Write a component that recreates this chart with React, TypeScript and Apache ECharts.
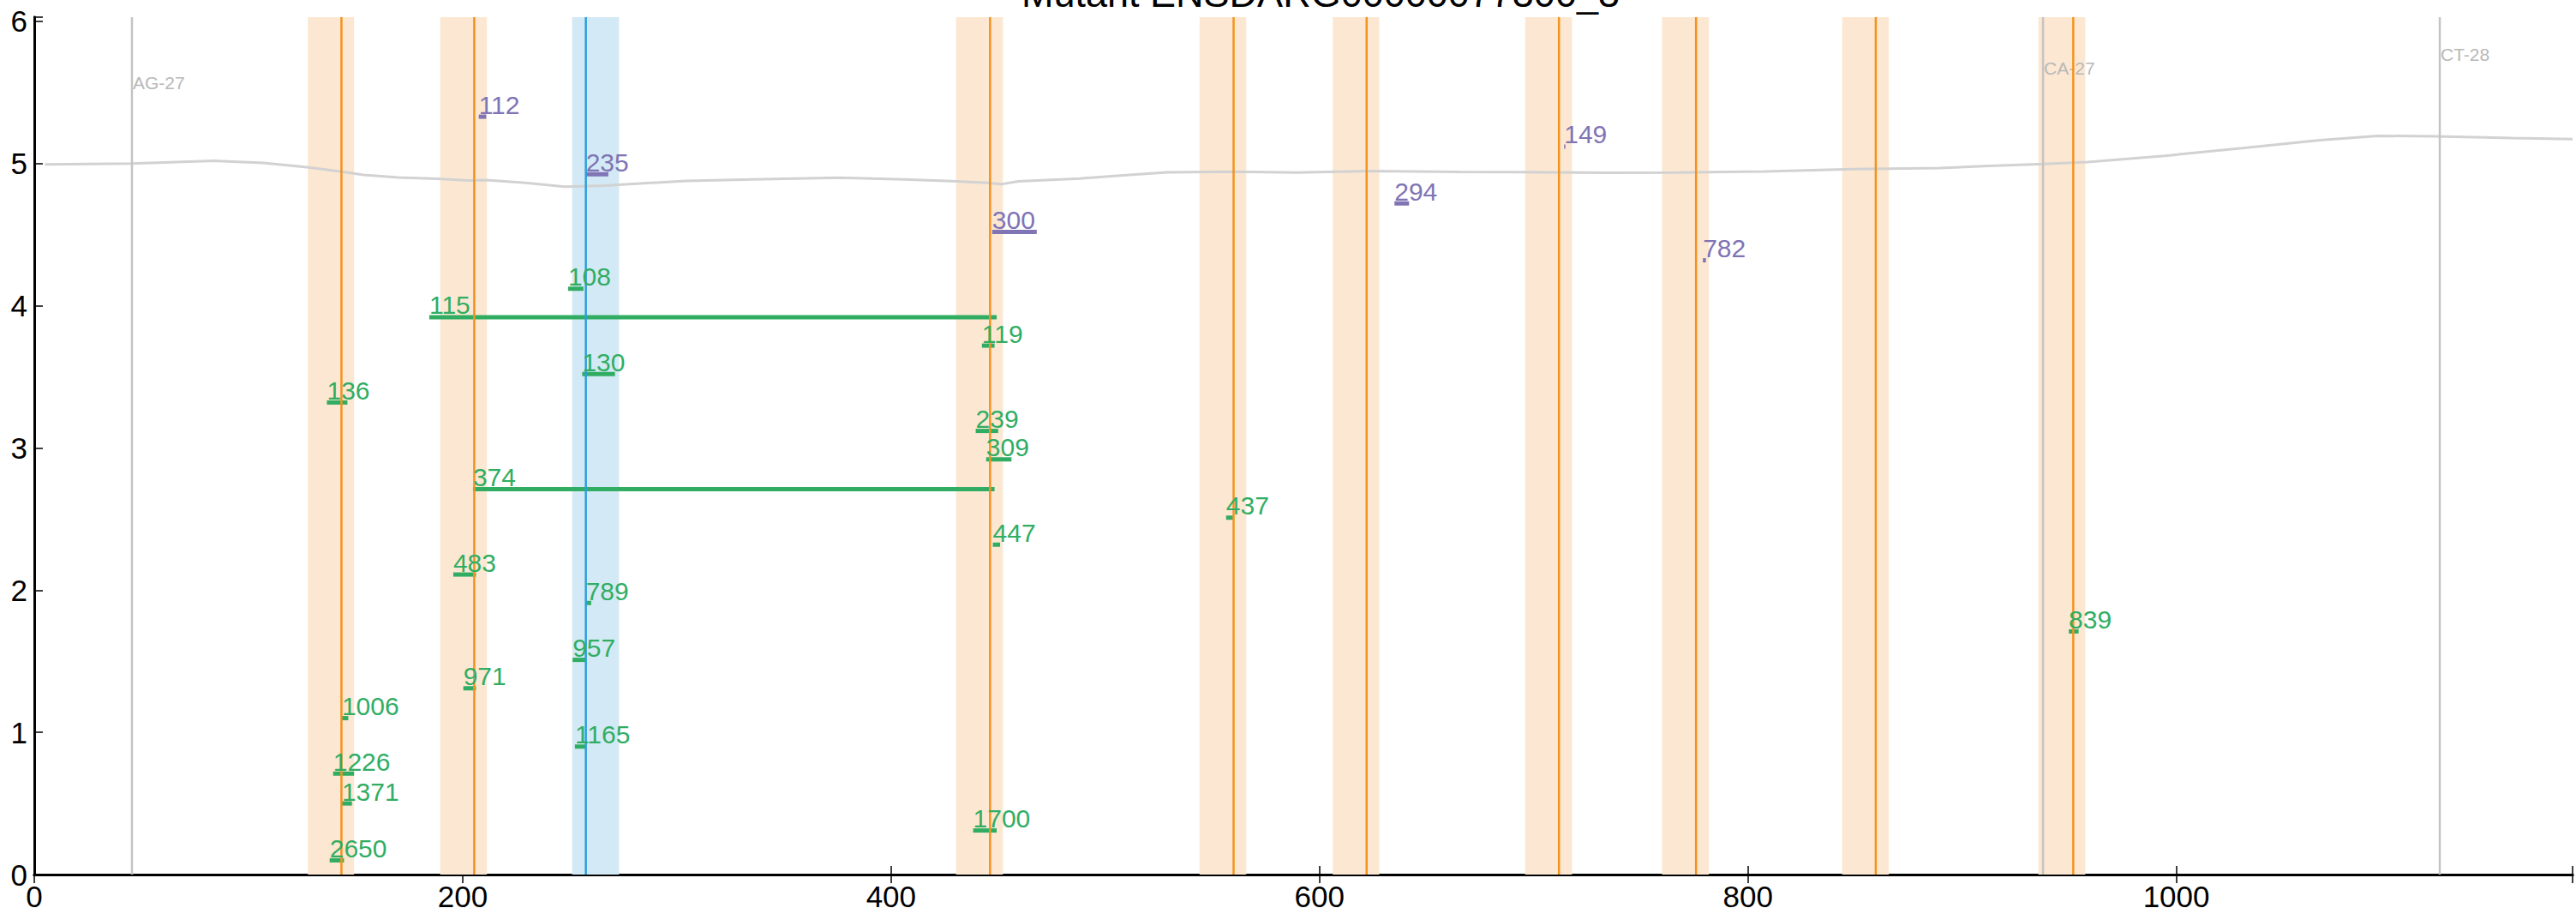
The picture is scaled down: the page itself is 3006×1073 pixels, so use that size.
import React, { useEffect, useRef } from 'react';
import * as echarts from 'echarts';

const TITLE = 'Mutant ENSDARG00000077300_3';
const X_MAX = 1185;
const Y_MAX = 6.03;
const X_INTERVAL = 200;
const Y_INTERVAL = 1;

// orange highlighted positions
const orangeLineX = [143.4, 205.4, 446.2, 559.9, 622.0, 711.8, 775.8, 859.7, 951.9];
const orangeBandStart = [127.7, 189.5, 430.3, 544.0, 606.2, 696.0, 759.9, 844.0, 935.6];
const orangeBandEnd = [149.3, 211.3, 452.2, 565.8, 627.9, 717.9, 781.8, 865.8, 957.5];

// blue highlighted position
const blueLineX = [257.5];
const blueBandStart = [251.1];
const blueBandEnd = [273.0];

// grey markers
const markerX = [45.6, 937.8, 1123];
const markerLabels = ['AG-27', 'CA-27', 'CT-28'];
const markerLabelY = [5.57, 5.67, 5.77];

// grey profile curve
const curveX = [5, 45.6, 84.4, 106.8, 127.3, 143.6, 153.8, 170, 188.4, 202.8, 210.9, 229.3, 247.7, 266, 304.4, 335, 375.8, 406.4, 430.8, 445.1, 451.3, 459.5, 488, 508.4, 528.8, 559.5, 590, 624.4, 665.2, 706, 734.6, 767.2, 808, 848.8, 889.6, 910, 938, 958.6, 994.7, 1030.8, 1067, 1094, 1121, 1157, 1185];
const curveY = [4.995, 5.0, 5.02, 5.005, 4.975, 4.943, 4.921, 4.903, 4.893, 4.881, 4.885, 4.865, 4.838, 4.845, 4.879, 4.889, 4.901, 4.889, 4.875, 4.865, 4.855, 4.875, 4.895, 4.917, 4.939, 4.943, 4.937, 4.947, 4.941, 4.939, 4.935, 4.937, 4.945, 4.961, 4.969, 4.982, 4.998, 5.011, 5.055, 5.109, 5.165, 5.195, 5.192, 5.18, 5.172];

// purple segments
const purpleLabels = ['112', '235', '300', '294', '149', '782'];
const purpleStart = [207.5, 257.5, 447.2, 635.0, 714.2, 779.0];
const purpleEnd = [211.0, 268.0, 468.0, 641.8, 714.8, 780.4];
const purpleY = [5.33, 4.925, 4.52, 4.72, 5.12, 4.32];

// green segments
const greenLabels = ['108', '115', '119', '130', '136', '239', '309', '374', '437', '447', '483', '789', '839', '957', '971', '1006', '1165', '1226', '1371', '1700', '2650'];
const greenStart = [249.2, 184.4, 442.4, 255.8, 136.6, 439.5, 444.4, 204.8, 556.4, 447.5, 195.6, 257.5, 949.8, 251.3, 200.3, 143.6, 252.4, 139.5, 143.6, 438.3, 137.9];
const greenEnd = [256.4, 449.3, 448.3, 271.1, 146.2, 450.0, 456.2, 448.3, 559.9, 450.9, 206.2, 260.0, 954.4, 257.5, 206.2, 146.6, 257.2, 149.3, 148.3, 449.3, 144.6];
const greenY = [4.12, 3.92, 3.72, 3.52, 3.32, 3.12, 2.92, 2.71, 2.51, 2.32, 2.11, 1.91, 1.71, 1.51, 1.31, 1.10, 0.90, 0.71, 0.50, 0.31, 0.10];

const FONT = "'Liberation Sans', Arial, Helvetica, sans-serif";
const ORANGE = '#f5921e';
const ORANGE_BAND = '#fce8d2';
const BLUE = '#2b9fdc';
const BLUE_BAND = '#d3eaf6';
const GREEN = '#31ad63';
const PURPLE = '#8074b4';
const GREY_LINE = '#c4c4c4';
const GREY_TEXT = '#b8b8b8';
const CURVE = '#d2d2d2';

function bandSeries(starts: number[], ends: number[], color: string, z: number) {
  return {
    type: 'custom',
    z,
    silent: true,
    data: starts.map((s, i) => [s, ends[i]]),
    renderItem: (params: any, api: any) => {
      const p1 = api.coord([api.value(0), Y_MAX]);
      const p2 = api.coord([api.value(1), 0]);
      return {
        type: 'rect',
        shape: { x: p1[0], y: p1[1], width: p2[0] - p1[0], height: p2[1] - p1[1] },
        style: { fill: color },
      };
    },
  };
}

function vlineSeries(xs: number[], color: string, width: number, z: number, labels?: string[], labelY?: number[]) {
  return {
    type: 'custom',
    z,
    silent: true,
    data: xs.map((x) => [x, 0]),
    renderItem: (params: any, api: any) => {
      const x = api.value(0);
      const p1 = api.coord([x, Y_MAX]);
      const p2 = api.coord([x, 0]);
      const children: any[] = [
        {
          type: 'line',
          shape: { x1: p1[0], y1: p1[1], x2: p2[0], y2: p2[1] },
          style: { stroke: color, lineWidth: width },
        },
      ];
      if (labels && labelY) {
        const pt = api.coord([x, labelY[params.dataIndex]]);
        children.push({
          type: 'text',
          x: pt[0] + 1,
          y: pt[1],
          style: {
            text: labels[params.dataIndex],
            fill: GREY_TEXT,
            fontSize: 21,
            fontFamily: FONT,
            align: 'left',
            verticalAlign: 'middle',
          },
        });
      }
      return { type: 'group', children };
    },
  };
}

function segLineSeries(starts: number[], ends: number[], ys: number[], color: string, z: number) {
  return {
    type: 'custom',
    z,
    silent: true,
    data: starts.map((s, i) => [s, ys[i], ends[i]]),
    renderItem: (params: any, api: any) => {
      const p1 = api.coord([api.value(0), api.value(1)]);
      const p2 = api.coord([api.value(2), api.value(1)]);
      return {
        type: 'line',
        shape: { x1: p1[0], y1: p1[1], x2: p2[0], y2: p2[1] },
        style: { stroke: color, lineWidth: 5, lineCap: 'butt' },
      };
    },
  };
}

function segTextSeries(starts: number[], ys: number[], labels: string[], color: string, z: number) {
  return {
    type: 'custom',
    z,
    silent: true,
    data: starts.map((s, i) => [s, ys[i]]),
    renderItem: (params: any, api: any) => {
      const p = api.coord([api.value(0), api.value(1)]);
      return {
        type: 'text',
        x: p[0],
        y: p[1] + 1,
        style: {
          text: labels[params.dataIndex],
          fill: color,
          fontSize: 30,
          fontFamily: FONT,
          align: 'left',
          verticalAlign: 'bottom',
        },
      };
    },
  };
}

export default function App() {
  const ref = useRef<HTMLDivElement>(null);

  useEffect(() => {
    if (!ref.current) return;
    const chart = echarts.init(ref.current, undefined, { renderer: 'svg' });
    const axisLine = { show: true, lineStyle: { color: '#000', width: 3 } };
    const axisTick = { show: true, inside: true, length: 10, lineStyle: { color: '#000', width: 1.5 } };
    const xFmt = (v: number) => (v % X_INTERVAL === 0 ? String(v) : '');
    const yFmt = (v: number) => (Number.isInteger(v) ? String(v) : '');

    chart.setOption({
      animation: false,
      backgroundColor: '#fff',
      grid: { left: 40, right: 4, top: 20, bottom: 53, containLabel: false },
      graphic: [
        {
          type: 'text',
          x: 1541,
          y: 15,
          z: 10,
          style: {
            text: TITLE,
            fill: '#000',
            fontSize: 45,
            fontFamily: FONT,
            align: 'center',
            verticalAlign: 'bottom',
          },
        },
      ],
      xAxis: [
        {
          type: 'value',
          min: 0,
          max: X_MAX,
          interval: X_INTERVAL,
          position: 'bottom',
          axisLine,
          axisTick,
          splitLine: { show: false },
          axisLabel: { color: '#000', fontSize: 35, fontFamily: FONT, margin: 8, formatter: xFmt },
        },
        {
          type: 'value',
          min: 0,
          max: X_MAX,
          interval: X_INTERVAL,
          position: 'top',
          axisLine,
          axisTick,
          splitLine: { show: false },
          axisLabel: { show: false },
        },
      ],
      yAxis: [
        {
          type: 'value',
          min: 0,
          max: Y_MAX,
          interval: Y_INTERVAL,
          position: 'left',
          axisLine,
          axisTick,
          splitLine: { show: false },
          axisLabel: { color: '#000', fontSize: 35, fontFamily: FONT, margin: 8, formatter: yFmt },
        },
        {
          type: 'value',
          min: 0,
          max: Y_MAX,
          interval: Y_INTERVAL,
          position: 'right',
          axisLine,
          axisTick: { show: false },
          splitLine: { show: false },
          axisLabel: { show: false },
        },
      ],
      series: [
        bandSeries(orangeBandStart, orangeBandEnd, ORANGE_BAND, 1),
        bandSeries(blueBandStart, blueBandEnd, BLUE_BAND, 1),
        {
          type: 'line',
          z: 2,
          silent: true,
          showSymbol: false,
          symbol: 'none',
          data: curveX.map((x, i) => [x, curveY[i]]),
          lineStyle: { color: CURVE, width: 3 },
        },
        vlineSeries(markerX, GREY_LINE, 2.5, 3, markerLabels, markerLabelY),
        segLineSeries(purpleStart, purpleEnd, purpleY, PURPLE, 3),
        segLineSeries(greenStart, greenEnd, greenY, GREEN, 3),
        vlineSeries(orangeLineX, ORANGE, 2.5, 4),
        vlineSeries(blueLineX, BLUE, 2.5, 4),
        segTextSeries(purpleStart, purpleY, purpleLabels, PURPLE, 5),
        segTextSeries(greenStart, greenY, greenLabels, GREEN, 5),
      ],
    });
    return () => chart.dispose();
  }, []);

  return (
    <div
      ref={ref}
      style={{ position: 'absolute', left: 0, top: 0, width: 3006, height: 1073, background: '#fff' }}
    />
  );
}
